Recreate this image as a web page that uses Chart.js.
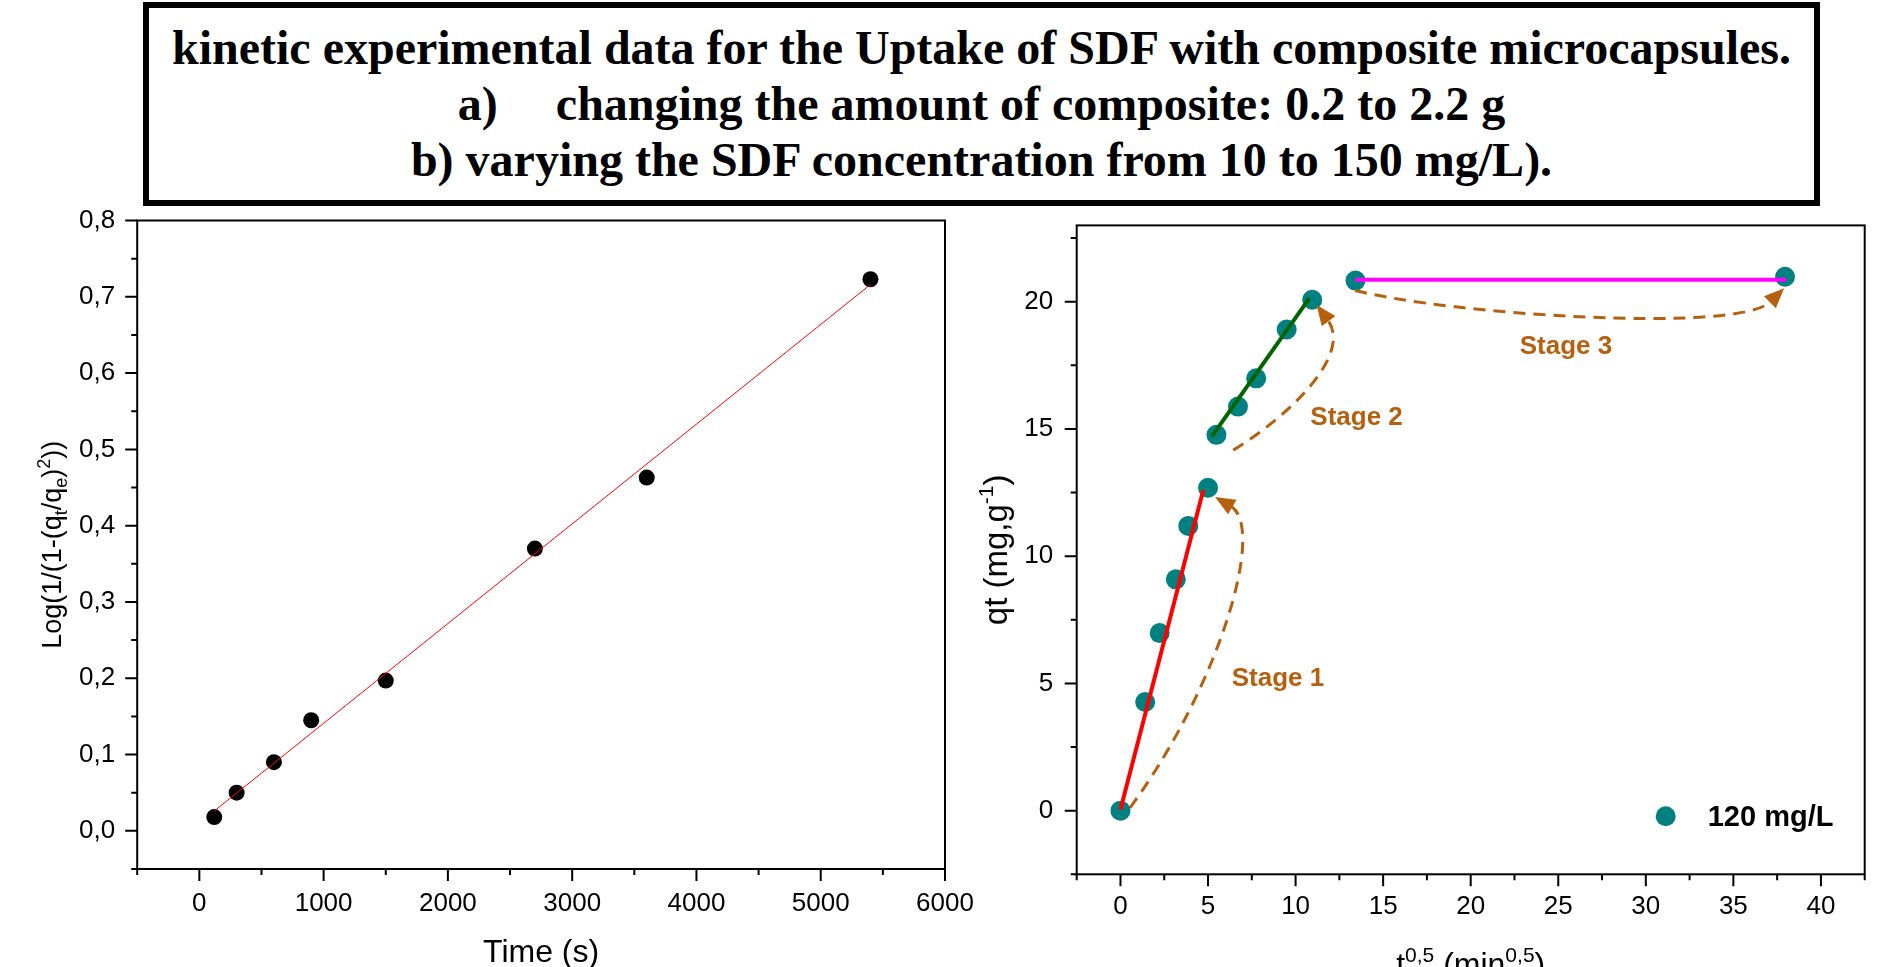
<!DOCTYPE html>
<html>
<head>
<meta charset="utf-8">
<title>SDF uptake kinetics</title>
<script src="https://cdn.jsdelivr.net/npm/chart.js@4.4.1/dist/chart.umd.min.js"></script>
<style>
  html, body { margin:0; padding:0; background:#fff; }
  body { width:1897px; height:967px; position:relative; overflow:hidden; }
  #head { position:absolute; left:143px; top:2px; width:1677px; height:204px; box-sizing:border-box;
    border:6px solid #000; font-family:"Liberation Serif","Times New Roman",serif; font-weight:bold;
    font-size:48px; line-height:56px; text-align:center; padding-top:12px; color:#000; white-space:nowrap; }
  #head .tab { margin-right:58px; }
  canvas { position:absolute; left:0; top:206px; width:1897px; height:761px; }
</style>
</head>
<body>
<div id="head">
  <div>kinetic experimental data for the Uptake of SDF with composite microcapsules.</div>
  <div><span class="tab">a)</span>changing the amount of composite: 0.2 to 2.2 g</div>
  <div>b) varying the SDF concentration from 10 to 150 mg/L).</div>
</div>
<canvas id="chart-left" width="1897" height="761"></canvas>
<canvas id="chart-right" width="1897" height="761"></canvas>
<script>
/* left panel: Log(1/(1-(qt/qe)^2)) vs time */
const timeSec   = [120, 300, 600, 900, 1500, 2700, 3600, 5400];
const logTerm   = [0.018, 0.050, 0.090, 0.145, 0.197, 0.370, 0.463, 0.723];
const fitTime   = [120, 5400];
const fitLog    = [0.026, 0.716];
const timeTicks = [0, 1000, 2000, 3000, 4000, 5000, 6000];
const timeMinor = [-500, 500, 1500, 2500, 3500, 4500, 5500];
const logTicks  = [0, 0.1, 0.2, 0.3, 0.4, 0.5, 0.6, 0.7, 0.8];
const logMinor  = [-0.05, 0.05, 0.15, 0.25, 0.35, 0.45, 0.55, 0.65, 0.75];

/* right panel: qt vs t^0.5, three stages */
const sqrtT   = [0, 1.41, 2.24, 3.16, 3.87, 5.00, 5.48, 6.71, 7.75, 9.49, 10.95, 13.42, 37.95];
const qtVals  = [0, 4.27, 6.98, 9.09, 11.19, 12.69, 14.77, 15.88, 16.99, 18.91, 20.08, 20.83, 20.98];
const stage1X = [0, 4.73],     stage1Y = [0.05, 12.6];
const stage2X = [5.21, 10.78], stage2Y = [14.70, 20.13];
const stage3X = [13.42, 38.0], stage3Y = [20.86, 20.86];
const sqrtTicks = [0, 5, 10, 15, 20, 25, 30, 35, 40];
const sqrtMinor = [-2.5, 2.5, 7.5, 12.5, 17.5, 22.5, 27.5, 32.5, 37.5, 42.5];
const qtTicks   = [0, 5, 10, 15, 20];
const qtMinor   = [-2.5, 2.5, 7.5, 12.5, 17.5, 22.5];
const seriesName = '120 mg/L';
const stageNames = ['Stage 1', 'Stage 2', 'Stage 3'];
const stageTextAt = [[6.35, 5.17], [10.84, 15.42], [22.8, 18.21]];
// dashed arrows, cubic bezier control points in data units (start ... tip)
const stageArrows = [
  [[0.54, 0.11], [5.61, 4.86], [8.36, 11.14], [5.40, 12.33]],
  [[6.44, 14.17], [9.85, 15.61], [13.26, 17.98], [11.20, 19.87]],
  [[13.40, 20.44], [18.89, 19.50], [35.27, 18.75], [37.90, 20.53]]
];

const SANS = '"Liberation Sans", Arial, sans-serif';
const TEAL = '#008080';
const BROWN = '#B5600F';

function pts(xs, ys) { return xs.map((x, i) => ({ x, y: ys[i] })); }

function drawRich(ctx, segs, size, bold) {
  const w8 = bold ? 'bold ' : '';
  const fontOf = s => w8 + (s.sub || s.sup ? Math.round(size * 0.65) : size) + 'px ' + SANS;
  let w = 0;
  segs.forEach(s => { ctx.font = fontOf(s); w += ctx.measureText(s.t).width; });
  let x = -w / 2;
  segs.forEach(s => {
    ctx.font = fontOf(s);
    const dy = s.sub ? size * 0.22 : s.sup ? -size * 0.42 : 0;
    ctx.fillText(s.t, x, dy);
    x += ctx.measureText(s.t).width;
  });
}

/* box, outward major/minor ticks and rich axis titles */
const framePlugin = {
  id: 'frame',
  afterDatasetsDraw(chart, args, o) {
    const { ctx, chartArea: a } = chart;
    const xs = chart.scales.x, ys = chart.scales.y;
    ctx.save();
    ctx.strokeStyle = '#000';
    ctx.lineWidth = 2;
    ctx.strokeRect(a.left, a.top, a.right - a.left, a.bottom - a.top);
    ctx.beginPath();
    const tick = (vals, len, horiz) => vals.forEach(v => {
      if (horiz) { const p = xs.getPixelForValue(v); ctx.moveTo(p, a.bottom); ctx.lineTo(p, a.bottom + len); }
      else { const p = ys.getPixelForValue(v); ctx.moveTo(a.left - len, p); ctx.lineTo(a.left, p); }
    });
    tick(o.xMajor, o.major, true); tick(o.xMinor, o.minor, true);
    tick(o.yMajor, o.major, false); tick(o.yMinor, o.minor, false);
    ctx.stroke();

    ctx.fillStyle = '#000';
    ctx.textAlign = 'left';
    ctx.textBaseline = 'alphabetic';
    ctx.save();
    ctx.translate((a.left + a.right) / 2, a.bottom + o.xTitleDrop);
    drawRich(ctx, o.xTitle, o.xTitleSize);
    ctx.restore();
    ctx.save();
    ctx.translate(a.left - o.yTitleGap, (a.top + a.bottom) / 2);
    ctx.rotate(-Math.PI / 2);
    drawRich(ctx, o.yTitle, o.yTitleSize);
    ctx.restore();
    ctx.restore();
  }
};

/* stage arrows, stage names and the in-plot legend */
const stagePlugin = {
  id: 'stages',
  afterDatasetsDraw(chart) {
    const { ctx, chartArea: a } = chart;
    const xs = chart.scales.x, ys = chart.scales.y;
    const px = p => [xs.getPixelForValue(p[0]), ys.getPixelForValue(p[1])];
    ctx.save();
    ctx.strokeStyle = BROWN;
    ctx.fillStyle = BROWN;
    ctx.lineWidth = 3;
    stageArrows.forEach(c => {
      const [p0, p1, p2, p3] = c.map(px);
      ctx.setLineDash([12, 8]);
      ctx.beginPath();
      ctx.moveTo(p0[0], p0[1]);
      ctx.bezierCurveTo(p1[0], p1[1], p2[0], p2[1], p3[0] - (p3[0] - p2[0]) * 0.3, p3[1] - (p3[1] - p2[1]) * 0.3);
      ctx.stroke();
      ctx.setLineDash([]);
      const dx = p3[0] - p2[0], dy = p3[1] - p2[1], L = Math.hypot(dx, dy);
      const ux = dx / L, uy = dy / L;
      const bx = p3[0] - ux * 20, by = p3[1] - uy * 20;
      ctx.beginPath();
      ctx.moveTo(p3[0], p3[1]);
      ctx.lineTo(bx - uy * 8.5, by + ux * 8.5);
      ctx.lineTo(bx + uy * 8.5, by - ux * 8.5);
      ctx.closePath();
      ctx.fill();
    });
    ctx.font = 'bold 26px ' + SANS;
    ctx.textAlign = 'left';
    ctx.textBaseline = 'middle';
    stageNames.forEach((s, i) => {
      const p = px(stageTextAt[i]);
      ctx.fillText(s, p[0], p[1]);
    });
    // legend
    ctx.fillStyle = TEAL;
    ctx.beginPath();
    ctx.arc(a.right - 199, a.bottom - 58, 10, 0, Math.PI * 2);
    ctx.fill();
    ctx.fillStyle = '#000';
    ctx.font = 'bold 29px ' + SANS;
    ctx.fillText(chart.data.datasets[0].label, a.right - 157, a.bottom - 56);
    ctx.restore();
  }
};

const tickFont = { family: SANS, size: 26 };

function axis(min, max, ticks, fmt, fitSize, pad, horiz) {
  return {
    type: 'linear', min, max,
    grid: { display: false, drawTicks: false },
    border: { display: false },
    afterBuildTicks: s => { s.ticks = ticks.map(v => ({ value: v })); },
    afterFit: s => {
      if (horiz) s.height = fitSize; else s.width = fitSize;
      s.paddingLeft = s.paddingRight = s.paddingTop = s.paddingBottom = 0;
    },
    ticks: { color: '#000', font: tickFont, padding: pad, autoSkip: false, maxRotation: 0, callback: fmt }
  };
}

new Chart(document.getElementById('chart-left'), {
  type: 'scatter',
  data: {
    datasets: [
      { label: 'fit', data: pts(fitTime, fitLog), showLine: true, borderColor: '#FF0000', borderWidth: 1, pointRadius: 0, order: 0 },
      { label: 'data', data: pts(timeSec, logTerm), pointRadius: 8, pointBackgroundColor: '#000', pointBorderWidth: 0, order: 1 }
    ]
  },
  options: {
    responsive: false, animation: false, devicePixelRatio: 1,
    layout: { padding: { left: 0, right: 952, top: 14.5, bottom: 0 } },
    scales: {
      x: axis(-500, 6000, timeTicks, v => String(v), 98, 19, true),
      y: axis(-0.05, 0.8, logTicks, v => v.toFixed(1).replace('.', ','), 137.2, 22, false)
    },
    plugins: {
      legend: { display: false }, tooltip: { enabled: false },
      frame: {
        xMajor: timeTicks, xMinor: timeMinor, yMajor: logTicks, yMinor: logMinor, major: 12, minor: 6,
        xTitle: [{ t: 'Time (s)' }], xTitleSize: 32, xTitleDrop: 93,
        yTitle: [{ t: 'Log(1/(1-(q' }, { t: 't', sub: 1 }, { t: '/q' }, { t: 'e', sub: 1 }, { t: ')' }, { t: '2', sup: 1 }, { t: '))' }],
        yTitleSize: 27, yTitleGap: 76
      }
    }
  },
  plugins: [framePlugin]
});

new Chart(document.getElementById('chart-right'), {
  type: 'scatter',
  data: {
    datasets: [
      { label: seriesName, data: pts(sqrtT, qtVals), pointRadius: 10, pointBackgroundColor: TEAL, pointBorderWidth: 0, order: 1 },
      { label: 'Stage 1 fit', data: pts(stage1X, stage1Y), showLine: true, borderColor: '#FF0000', borderWidth: 4, pointRadius: 0, order: 0 },
      { label: 'Stage 2 fit', data: pts(stage2X, stage2Y), showLine: true, borderColor: '#006400', borderWidth: 4, pointRadius: 0, order: 0 },
      { label: 'Stage 3 fit', data: pts(stage3X, stage3Y), showLine: true, borderColor: '#FF00FF', borderWidth: 4, pointRadius: 0, order: 0 }
    ]
  },
  options: {
    responsive: false, animation: false, devicePixelRatio: 1,
    layout: { padding: { left: 956.7, right: 32.3, top: 19.4, bottom: 0 } },
    scales: {
      x: axis(-2.5, 42.5, sqrtTicks, v => String(v), 92.7, 17, true),
      y: axis(-2.5, 23, qtTicks, v => String(v), 120, 23.5, false)
    },
    plugins: {
      legend: { display: false }, tooltip: { enabled: false },
      frame: {
        xMajor: sqrtTicks, xMinor: sqrtMinor, yMajor: qtTicks, yMinor: qtMinor, major: 12, minor: 6,
        xTitle: [{ t: 't' }, { t: '0,5', sup: 1 }, { t: ' (min' }, { t: '0,5', sup: 1 }, { t: ')' }], xTitleSize: 32, xTitleDrop: 100.7,
        yTitle: [{ t: 'qt (mg,g' }, { t: '-1', sup: 1 }, { t: ')' }], yTitleSize: 33, yTitleGap: 70
      }
    }
  },
  plugins: [framePlugin, stagePlugin]
});
</script>
</body>
</html>
